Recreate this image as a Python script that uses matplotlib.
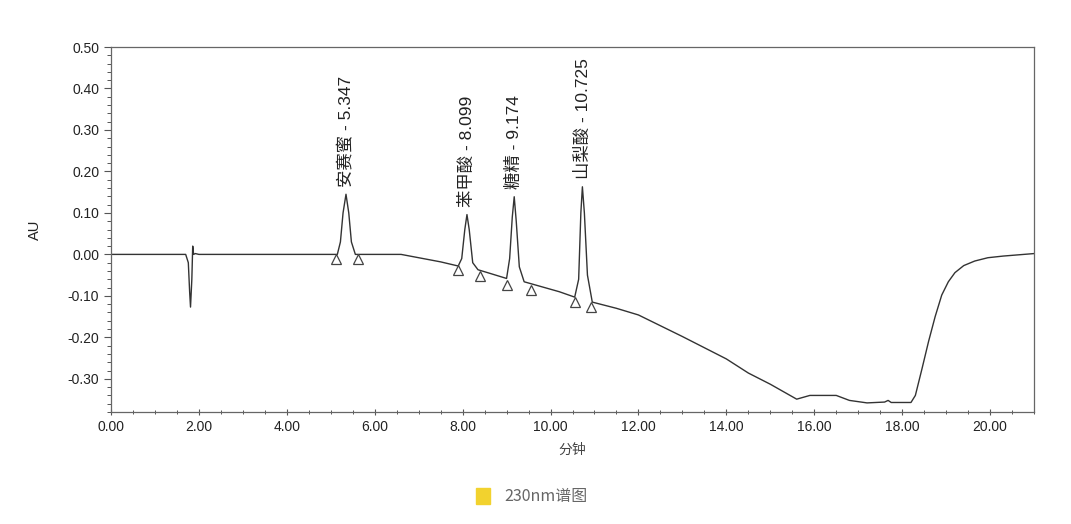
import matplotlib.pyplot as plt
from matplotlib.ticker import MultipleLocator, FormatStrFormatter

# chromatogram trace (minutes, AU)
time_min = [0.0, 1.0, 1.70, 1.76, 1.79, 1.81, 1.84, 1.86, 1.88, 1.92, 2.0, 3.0,
            4.0, 5.0, 5.15, 5.22, 5.28, 5.347, 5.41, 5.47, 5.56, 5.7, 6.0, 6.6,
            7.0, 7.5, 7.9, 7.98, 8.05, 8.099, 8.15, 8.23, 8.35, 8.6, 9.0, 9.07,
            9.13, 9.174, 9.22, 9.29, 9.4, 9.8, 10.2, 10.55, 10.64, 10.69, 10.725,
            10.77, 10.84, 10.95, 11.5, 12.0, 13.0, 14.0, 14.5, 15.0, 15.6, 15.9,
            16.5, 16.8, 17.2, 17.6, 17.68, 17.75, 18.2, 18.3, 18.45, 18.6, 18.75,
            18.9, 19.05, 19.2, 19.4, 19.65, 19.95, 20.3, 21.0]
au = [0.0, 0.0, 0.0, -0.02, -0.09, -0.127, -0.06, 0.02, 0.0, 0.002, 0.0, 0.0,
      0.0, 0.0, 0.0, 0.03, 0.10, 0.145, 0.10, 0.03, 0.0, 0.0, 0.0, 0.0,
      -0.008, -0.018, -0.028, -0.01, 0.06, 0.096, 0.06, -0.02, -0.037, -0.045, -0.058, -0.01,
      0.09, 0.139, 0.08, -0.03, -0.066, -0.078, -0.09, -0.103, -0.06, 0.10, 0.163,
      0.10, -0.05, -0.115, -0.13, -0.146, -0.198, -0.252, -0.286, -0.313, -0.349, -0.34,
      -0.34, -0.352, -0.358, -0.356, -0.352, -0.357, -0.357, -0.34, -0.276, -0.21, -0.15,
      -0.098, -0.066, -0.044, -0.027, -0.016, -0.008, -0.004, 0.002]

peak_names = ['安赛蜜', '苯甲酸', '糖精', '山梨酸']
peak_rt = [5.347, 8.099, 9.174, 10.725]
peak_top = [0.145, 0.096, 0.139, 0.163]

# integration start/end markers
mark_t = [5.11, 5.61, 7.89, 8.39, 9.02, 9.55, 10.55, 10.93]
mark_au = [0.0, 0.0, -0.027, -0.040, -0.062, -0.075, -0.103, -0.117]

cjk = ['Liberation Sans', 'Noto Sans CJK SC']
plt.rcParams['font.family'] = cjk

fig = plt.figure(figsize=(10.71, 5.24), dpi=100)
ax = fig.add_axes([0.1036, 0.2137, 0.8619, 0.6966])

ax.plot(time_min, au, color='#333333', linewidth=1.0)
ax.plot(mark_t, [v - 0.011 for v in mark_au], linestyle='none', marker='^',
        markersize=7, markerfacecolor='white', markeredgecolor='#444444',
        markeredgewidth=0.9)

for name, rt, top in zip(peak_names, peak_rt, peak_top):
    ax.text(rt, top + 0.018, f'{name} - {rt:.3f}', rotation=90, ha='center',
            va='bottom', fontsize=12.5, color='#222222')

ax.set_xlim(0, 21.0)
ax.set_ylim(-0.38, 0.50)
ax.xaxis.set_major_locator(MultipleLocator(2))
ax.xaxis.set_minor_locator(MultipleLocator(0.5))
ax.yaxis.set_major_locator(MultipleLocator(0.1))
ax.yaxis.set_minor_locator(MultipleLocator(0.02))
ax.xaxis.set_major_formatter(FormatStrFormatter('%.2f'))
ax.yaxis.set_major_formatter(FormatStrFormatter('%.2f'))
ax.tick_params(which='major', length=5, width=0.8, color='#555555',
               labelsize=10, labelcolor='#222222')
ax.tick_params(which='minor', length=3, width=0.7, color='#555555')
ax.tick_params(axis='x', which='both', direction='inout')
for s in ax.spines.values():
    s.set_color('#666666')
    s.set_linewidth(0.9)

ax.set_ylabel('AU', fontsize=10.5, color='#222222', labelpad=18)
ax.set_xlabel('分钟', fontsize=10, color='#444444', labelpad=6)

# caption under the chart
fig.patches.append(plt.Rectangle((476 / 1071, 1 - 504 / 524), 14 / 1071, 16 / 524,
                                 transform=fig.transFigure, color='#F2D22E'))
fig.text(504 / 1071, 1 - 496 / 524, '230nm谱图', fontsize=11.5, color='#666666',
         ha='left', va='center', family=['Noto Sans CJK SC'])

fig.savefig('out.png', dpi=100)
